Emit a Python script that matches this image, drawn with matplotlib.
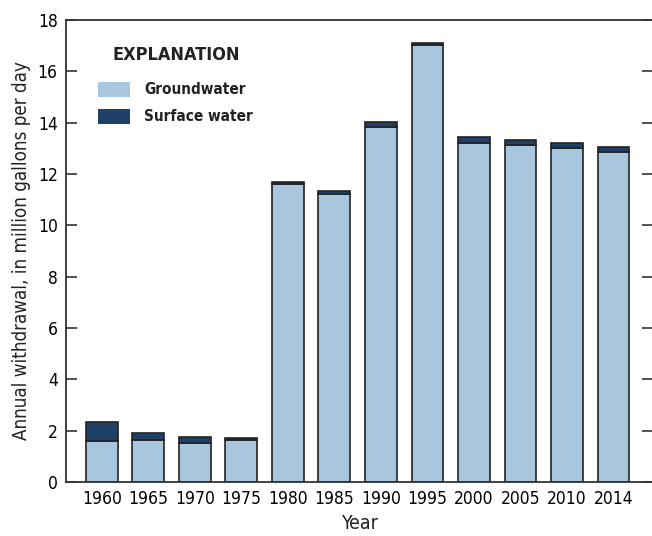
import numpy as np
import matplotlib.pyplot as plt
from matplotlib.patches import Rectangle

years = ["1960", "1965", "1970", "1975", "1980", "1985", "1990", "1995",
         "2000", "2005", "2010", "2014"]
groundwater = [1.60, 1.64, 1.52, 1.64, 11.60, 11.22, 13.82, 17.01,
               13.19, 13.14, 13.00, 12.87]
surface_water = [0.74, 0.27, 0.23, 0.09, 0.10, 0.13, 0.22, 0.08,
                 0.25, 0.17, 0.20, 0.17]

GW_COLOR = "#a8c6de"
SW_COLOR = "#1f4168"
EDGE = "#222222"

plt.rcParams["font.family"] = ["DejaVu Sans"]
plt.rcParams["font.stretch"] = "condensed"

W, H = 652, 536
fig = plt.figure(figsize=(W / 100, H / 100), dpi=100)
ax = fig.add_axes([66 / W, 1 - 482 / H, 1 - 66 / W + 0.002, 462 / H])

x = np.arange(len(years))
ax.bar(x, groundwater, width=0.68, color=GW_COLOR, edgecolor=EDGE, linewidth=1.2)
ax.bar(x, surface_water, width=0.68, bottom=groundwater, color=SW_COLOR,
       edgecolor=EDGE, linewidth=1.2)

ax.set_xlim(-0.77, 11.86)
ax.set_ylim(0, 18)
ax.set_yticks(np.arange(0, 19, 2))
ax.set_xticks(x)
ax.set_xticklabels(years)

ax.tick_params(axis="y", direction="in", length=8, width=1.2, color="#333333",
               labelsize=12.5, left=True, right=True, pad=6)
ax.tick_params(axis="x", length=0, labelsize=12.5, pad=6)
for side in ["left", "top", "bottom"]:
    ax.spines[side].set_color("#333333")
    ax.spines[side].set_linewidth(1.3)
ax.spines["right"].set_visible(False)

ax.set_ylabel("Annual withdrawal, in million gallons per day", fontsize=13.5,
              labelpad=5, color="#222222")
ax.set_xlabel("Year", fontsize=14, labelpad=4, color="#222222")

# explanation box, placed in pixel terms
def fx(px):
    return px / W

def fy(py):
    return 1 - py / H

fig.text(fx(113), fy(55), "EXPLANATION", fontsize=13, fontweight="bold",
         va="center", ha="left", color="#222222")
legend_items = [("Groundwater", GW_COLOR, 89.5), ("Surface water", SW_COLOR, 116.5)]
for label, color, yc in legend_items:
    fig.patches.append(Rectangle((fx(98), fy(yc + 7.5)), 32 / W, 15 / H,
                                 transform=fig.transFigure, facecolor=color,
                                 edgecolor="none"))
    fig.text(fx(144), fy(yc), label, fontsize=11, fontweight="bold",
             va="center", ha="left", color="#222222")

fig.savefig("out.png", dpi=100)
